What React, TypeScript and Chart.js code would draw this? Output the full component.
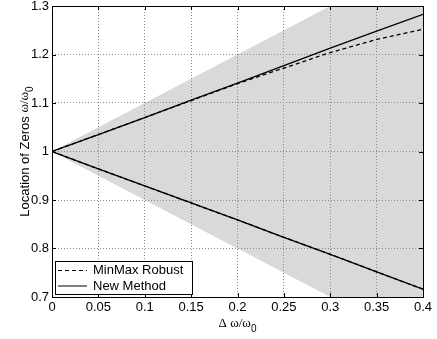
import React, { useEffect, useRef } from 'react';
import { Chart, registerables } from 'chart.js';
Chart.register(...registerables);

const xValues = [0, 0.05, 0.1, 0.15, 0.2, 0.25, 0.3, 0.35, 0.4];
const newMethodUpper = [1, 1.035, 1.07, 1.106, 1.141, 1.177, 1.213, 1.248, 1.283];
const newMethodLower = [1, 0.964, 0.929, 0.894, 0.859, 0.823, 0.788, 0.752, 0.716];
const minmaxUpper = [1, 1.035, 1.07, 1.105, 1.14, 1.172, 1.204, 1.231, 1.252];
const minmaxLower = [1, 0.964, 0.929, 0.894, 0.859, 0.823, 0.788, 0.752, 0.716];
const bandX = [0, 0.4];
const bandUpper = [1, 1.4];
const bandLower = [1, 0.6];
const xTicks = [0, 0.05, 0.1, 0.15, 0.2, 0.25, 0.3, 0.35, 0.4];
const yTicks = [0.7, 0.8, 0.9, 1, 1.1, 1.2, 1.3];
const seriesLabels = ['MinMax Robust', 'New Method'];

const SANS = '"Liberation Sans", Arial, Helvetica, sans-serif';
const SERIF = '"Liberation Serif", "DejaVu Serif", serif';

const pts = (xs: number[], ys: number[]) => xs.map((x, i) => ({ x, y: ys[i] }));
const fmt = (v: number) => String(Number(v.toFixed(2)));

function drawSubText(ctx: CanvasRenderingContext2D, parts: { t: string; font: string; dy: number }[], cx: number, cy: number) {
  let total = 0;
  for (const p of parts) { ctx.font = p.font; total += ctx.measureText(p.t).width; }
  let x = cx - total / 2;
  ctx.textBaseline = 'alphabetic';
  ctx.textAlign = 'left';
  for (const p of parts) {
    ctx.font = p.font;
    ctx.fillText(p.t, x, cy + p.dy);
    x += ctx.measureText(p.t).width;
  }
}

const decorPlugin = {
  id: 'decor',
  afterDatasetsDraw(chart: any) {
    const { ctx, chartArea: a } = chart;
    const xs = chart.scales.x, ys = chart.scales.y;
    ctx.save();
    ctx.strokeStyle = '#000';
    ctx.lineWidth = 1;
    ctx.beginPath();
    const L = 4;
    for (const v of xTicks) {
      const px = Math.round(xs.getPixelForValue(v)) + 0.5;
      ctx.moveTo(px, a.bottom); ctx.lineTo(px, a.bottom - L);
      ctx.moveTo(px, a.top); ctx.lineTo(px, a.top + L);
    }
    for (const v of yTicks) {
      const py = Math.round(ys.getPixelForValue(v)) + 0.5;
      ctx.moveTo(a.left, py); ctx.lineTo(a.left + L, py);
      ctx.moveTo(a.right, py); ctx.lineTo(a.right - L, py);
    }
    ctx.stroke();
    ctx.strokeRect(Math.round(a.left) + 0.5, Math.round(a.top) + 0.5, Math.round(a.right - a.left), Math.round(a.bottom - a.top));
    ctx.restore();
  },
  afterDraw(chart: any) {
    const { ctx, chartArea: a } = chart;
    ctx.save();
    // legend
    const bx = 55.5, by = 261.5, bw = 137, bh = 33;
    ctx.fillStyle = '#fff';
    ctx.fillRect(bx, by, bw, bh);
    ctx.strokeStyle = '#000';
    ctx.lineWidth = 1;
    ctx.strokeRect(bx, by, bw, bh);
    const rows = [
      { label: seriesLabels[0], dash: [4, 3], y: 270 },
      { label: seriesLabels[1], dash: [], y: 285.5 },
    ];
    ctx.font = '13px ' + SANS;
    ctx.fillStyle = '#000';
    ctx.textBaseline = 'middle';
    ctx.textAlign = 'left';
    for (const r of rows) {
      ctx.beginPath();
      ctx.setLineDash(r.dash);
      ctx.moveTo(58, r.y + 0.5);
      ctx.lineTo(87, r.y + 0.5);
      ctx.stroke();
      ctx.setLineDash([]);
      ctx.fillText(r.label, 93, r.y + 0.5);
    }
    // axis titles
    ctx.fillStyle = '#000';
    const cx = (a.left + a.right) / 2;
    drawSubText(ctx, [
      { t: '\u0394 \u03c9/\u03c9', font: '13px ' + SERIF, dy: 0 },
      { t: '0', font: '10px ' + SANS, dy: 5 },
    ], cx, 327);
    ctx.save();
    ctx.translate(25, (a.top + a.bottom) / 2);
    ctx.rotate(-Math.PI / 2);
    ctx.font = '13px ' + SANS;
    const p1 = 'Location of Zeros ';
    ctx.font = '13px ' + SANS;
    const w1 = ctx.measureText(p1).width;
    ctx.font = '13px ' + SERIF;
    const w2 = ctx.measureText('\u03c9/\u03c9').width;
    ctx.font = '10px ' + SANS;
    const w3 = ctx.measureText('0').width;
    let x = -(w1 + w2 + w3) / 2;
    ctx.textBaseline = 'middle';
    ctx.textAlign = 'left';
    ctx.font = '13px ' + SANS;
    ctx.fillText(p1, x, 0); x += w1;
    ctx.font = '13px ' + SERIF;
    ctx.fillText('\u03c9/\u03c9', x, 0); x += w2;
    ctx.font = '10px ' + SANS;
    ctx.fillText('0', x, 5);
    ctx.restore();
    ctx.restore();
  },
};

export default function App() {
  const ref = useRef<HTMLCanvasElement>(null);
  useEffect(() => {
    document.body.style.margin = '0';
    const chart = new Chart(ref.current!, {
      type: 'line',
      data: {
        datasets: [
          { label: seriesLabels[1], data: pts(xValues, newMethodUpper), borderColor: '#000', borderWidth: 1.3, pointRadius: 0, fill: false },
          { label: seriesLabels[1], data: pts(xValues, newMethodLower), borderColor: '#000', borderWidth: 1.3, pointRadius: 0, fill: false },
          { label: seriesLabels[0], data: pts(xValues, minmaxUpper), borderColor: '#000', borderWidth: 1.3, borderDash: [4, 3], pointRadius: 0, fill: false },
          { label: seriesLabels[0], data: pts(xValues, minmaxLower), borderColor: '#000', borderWidth: 1.3, borderDash: [4, 3], pointRadius: 0, fill: false },
          { label: 'band upper', data: pts(bandX, bandUpper), borderWidth: 0, borderColor: 'rgba(0,0,0,0)', pointRadius: 0, fill: false },
          { label: 'band lower', data: pts(bandX, bandLower), borderWidth: 0, borderColor: 'rgba(0,0,0,0)', backgroundColor: '#d9d9d9', pointRadius: 0, fill: '-1' },
        ],
      },
      options: {
        animation: false,
        responsive: true,
        maintainAspectRatio: false,
        layout: { padding: { top: 6, right: 14, left: 0, bottom: 0 } },
        plugins: {
          legend: { display: false },
          tooltip: { enabled: false },
          filler: { drawTime: 'beforeDraw' },
        },
        scales: {
          x: {
            type: 'linear',
            min: 0,
            max: 0.4,
            afterBuildTicks: (s: any) => { s.ticks = xTicks.map((v) => ({ value: v })); },
            afterFit: (s: any) => { s.height = 42; s.paddingLeft = 0; s.paddingRight = 0; },
            ticks: { callback: (v: any) => fmt(Number(v)), color: '#000', font: { family: SANS, size: 13 }, padding: 3, maxRotation: 0, autoSkip: false },
            grid: { color: '#8a8a8a', drawTicks: false, lineWidth: 1 },
            border: { display: false, dash: [1, 2] },
          },
          y: {
            type: 'linear',
            min: 0.7,
            max: 1.3,
            afterBuildTicks: (s: any) => { s.ticks = yTicks.map((v) => ({ value: v })); },
            afterFit: (s: any) => { s.width = 52; s.paddingTop = 0; s.paddingBottom = 0; },
            ticks: { callback: (v: any) => fmt(Number(v)), color: '#000', font: { family: SANS, size: 13 }, padding: 3, autoSkip: false },
            grid: { color: '#8a8a8a', drawTicks: false, lineWidth: 1 },
            border: { display: false, dash: [1, 2] },
          },
        },
      },
      plugins: [decorPlugin],
    });
    return () => chart.destroy();
  }, []);
  return (
    <div style={{ position: 'absolute', left: 0, top: 0, width: 437, height: 339 }}>
      <canvas ref={ref} />
    </div>
  );
}
